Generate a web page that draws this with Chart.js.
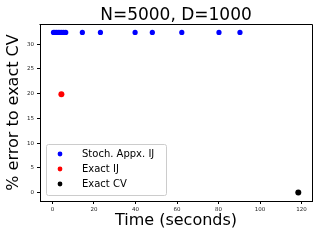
<!DOCTYPE html>
<html>
<head>
<meta charset="utf-8">
<script src="https://cdn.jsdelivr.net/npm/chart.js@4"></script>
<style>
  html, body { margin: 0; padding: 0; background: #fff; }
</style>
</head>
<body>
<canvas id="chart" width="320" height="240"></canvas>
<script>
const chartTitle = "N=5000, D=1000";
const xLabel = "Time (seconds)";
const yLabel = "% error to exact CV";
const seriesNames = ["Stoch. Appx. IJ", "Exact IJ", "Exact CV"];
const seriesColors = ["#0000ff", "#ff0000", "#000000"];

const stochTimes = [0.5, 1.2, 2.0, 2.8, 3.6, 4.5, 5.4, 6.4, 14.4, 23.1, 39.8, 48.1, 62.3, 80.2, 90.3];
const stochErr = [32.4, 32.4, 32.4, 32.4, 32.4, 32.4, 32.4, 32.4, 32.4, 32.4, 32.4, 32.4, 32.4, 32.4, 32.4];
const ijTimes = [4.3];
const ijErr = [19.9];
const cvTimes = [118.4];
const cvErr = [0];

const xTicks = [0, 20, 40, 60, 80, 100, 120];
const yTicks = [0, 5, 10, 15, 20, 25, 30];

function pts(xs, ys) {
  return xs.map((x, i) => ({ x: x, y: ys[i] }));
}

const FONT = "DejaVu Sans";

// title centred over the plot area, plus top/right spines
const titlePlugin = {
  id: 'plotTitle',
  afterDraw(chart) {
    const c = chart.ctx, a = chart.chartArea;
    c.save();
    c.strokeStyle = "#000";
    c.lineWidth = 1;
    c.beginPath();
    c.moveTo(Math.round(a.left) - 0.5, Math.round(a.top) + 0.5);
    c.lineTo(Math.round(a.right) + 0.5, Math.round(a.top) + 0.5);
    c.lineTo(Math.round(a.right) + 0.5, Math.round(a.bottom) + 0.5);
    c.stroke();
    c.font = "17px '" + FONT + "'";
    c.fillStyle = "#000";
    c.textAlign = "center";
    c.textBaseline = "alphabetic";
    c.fillText(chartTitle, (a.left + a.right) / 2, 19.5);
    c.restore();
  }
};

// legend box in lower left of the axes
const legendPlugin = {
  id: 'innerLegend',
  afterDatasetsDraw(chart) {
    const c = chart.ctx;
    const bx = 46, by = 144, bw = 120, bh = 51;
    c.save();
    c.beginPath();
    c.roundRect(bx + 0.5, by + 0.5, bw, bh, 2);
    c.fillStyle = "rgba(255,255,255,0.8)";
    c.fill();
    c.strokeStyle = "#cccccc";
    c.lineWidth = 1;
    c.stroke();
    c.font = "10px '" + FONT + "'";
    c.textBaseline = "middle";
    c.textAlign = "left";
    chart.data.datasets.forEach((ds, i) => {
      const y = 154 + i * 15;
      c.beginPath();
      c.arc(60, y, 2.4, 0, Math.PI * 2);
      c.fillStyle = ds.backgroundColor;
      c.fill();
      c.fillStyle = "#000";
      c.fillText(ds.label, 82, y + 0.5);
    });
    c.restore();
  }
};

new Chart(document.getElementById('chart'), {
  type: 'scatter',
  data: {
    datasets: [
      { label: seriesNames[0], data: pts(stochTimes, stochErr), backgroundColor: seriesColors[0], borderWidth: 0, pointRadius: 2.6 },
      { label: seriesNames[1], data: pts(ijTimes, ijErr), backgroundColor: seriesColors[1], borderWidth: 0, pointRadius: 3 },
      { label: seriesNames[2], data: pts(cvTimes, cvErr), backgroundColor: seriesColors[2], borderWidth: 0, pointRadius: 3 }
    ]
  },
  options: {
    responsive: false,
    animation: false,
    layout: { padding: { top: 24, right: 8, left: 0, bottom: 0 } },
    plugins: {
      legend: { display: false },
      tooltip: { enabled: false },
      title: { display: false }
    },
    scales: {
      x: {
        type: 'linear',
        min: -6,
        max: 125,
        afterBuildTicks: s => { s.ticks = xTicks.map(v => ({ value: v })); },
        afterFit: s => { s.height = 39; },
        grid: { display: true, drawOnChartArea: false, drawTicks: true, tickLength: 3, color: '#000' },
        border: { display: true, color: '#000', width: 1 },
        ticks: { color: '#222', padding: 2, maxRotation: 0, font: { family: FONT, size: 5.5 } },
        title: { display: true, text: xLabel, color: '#000', padding: { top: 0, bottom: 10 }, font: { family: FONT, size: 16 } }
      },
      y: {
        type: 'linear',
        min: -1.7,
        max: 34.1,
        afterBuildTicks: s => { s.ticks = yTicks.map(v => ({ value: v })); },
        afterFit: s => { s.width = 40; },
        grid: { display: true, drawOnChartArea: false, drawTicks: true, tickLength: 3, color: '#000' },
        border: { display: true, color: '#000', width: 1 },
        ticks: { color: '#222', padding: 3, font: { family: FONT, size: 5.5 } },
        title: { display: true, text: yLabel, color: '#000', padding: { top: 4.5, bottom: 0 }, font: { family: FONT, size: 16 } }
      }
    }
  },
  plugins: [titlePlugin, legendPlugin]
});
</script>
</body>
</html>
